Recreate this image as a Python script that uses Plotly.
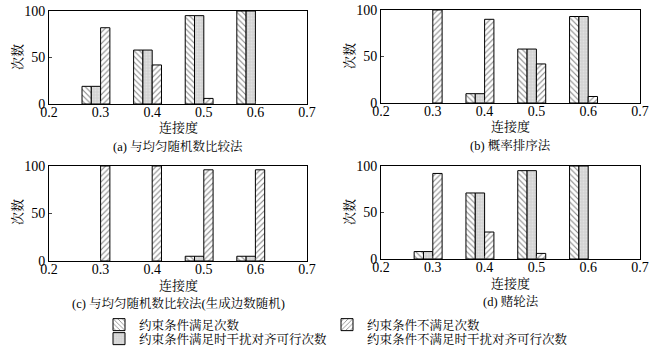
import plotly.graph_objects as go

connectivity = [0.3, 0.4, 0.5, 0.6]
series_names = ["约束条件满足次数", "约束条件满足时干扰对齐可行次数", "约束条件不满足次数", "约束条件不满足时干扰对齐可行次数"]

# panel (a) 与均匀随机数比较法
a_sat = [19, 58, 95, 100]
a_sat_feasible = [19, 58, 95, 100]
a_unsat = [82, 42, 6, 0]
a_unsat_feasible = [0, 0, 0, 0]
# panel (b) 概率排序法
b_sat = [0, 10, 58, 93]
b_sat_feasible = [0, 10, 58, 93]
b_unsat = [100, 90, 42, 7]
b_unsat_feasible = [0, 0, 0, 0]
# panel (c) 与均匀随机数比较法(生成边数随机)
c_sat = [0, 0, 5, 5]
c_sat_feasible = [0, 0, 5, 5]
c_unsat = [100, 100, 96, 96]
c_unsat_feasible = [0, 0, 0, 0]
# panel (d) 赌轮法
d_sat = [8, 71, 95, 100]
d_sat_feasible = [8, 71, 95, 100]
d_unsat = [92, 29, 6, 0]
d_unsat_feasible = [0, 0, 0, 0]

captions = ["(a) 与均匀随机数比较法", "(b) 概率排序法", "(c) 与均匀随机数比较法(生成边数随机)", "(d) 赌轮法"]
xticks = [0.2, 0.3, 0.4, 0.5, 0.6, 0.7]
yticks = [0, 50, 100]

panels = [
    [a_sat, a_sat_feasible, a_unsat, a_unsat_feasible],
    [b_sat, b_sat_feasible, b_unsat, b_unsat_feasible],
    [c_sat, c_sat_feasible, c_unsat, c_unsat_feasible],
    [d_sat, d_sat_feasible, d_unsat, d_unsat_feasible],
]

W, H = 668, 349
SERIF = "Times New Roman, Liberation Serif, Noto Serif CJK SC, Noto Sans CJK SC, serif"

styles = [
    dict(color="white", pattern=dict(shape="\\", fgcolor="black", bgcolor="white", size=4, solidity=0.25)),
    dict(color="#d8d8d8", pattern=dict(shape=".", fgcolor="#f0f0f0", bgcolor="#d2d2d2", size=3, solidity=0.35)),
    dict(color="white", pattern=dict(shape="/", fgcolor="black", bgcolor="white", size=4, solidity=0.25)),
    dict(color="white"),
]
legend_ids = ["legend", "legend2", "legend3", "legend4"]

# pixel boxes: (left, right, top, bottom)
boxes = [(49, 307, 11, 104), (381, 640, 10, 103), (49, 307, 166, 261), (381, 640, 166, 259)]

fig = go.Figure()
for p, vals in enumerate(panels):
    xa = "x" if p == 0 else f"x{p+1}"
    ya = "y" if p == 0 else f"y{p+1}"
    for s in range(4):
        st = styles[s]
        fig.add_trace(go.Bar(
            x=connectivity, y=vals[s], name=series_names[s],
            xaxis=xa, yaxis=ya,
            marker=dict(line=dict(color="black", width=[1 if v > 0 else 0 for v in vals[s]]), **st),
            showlegend=(p == 0), legend=legend_ids[s],
        ))

layout = dict(
    width=W, height=H, margin=dict(l=0, r=0, t=0, b=0, autoexpand=False),
    paper_bgcolor="white", plot_bgcolor="white",
    barmode="group", bargap=0.28, bargroupgap=0,
    font=dict(family=SERIF, size=13, color="black"),
)
annotations = []
for p, (l, r, t, b) in enumerate(boxes):
    xk = "xaxis" if p == 0 else f"xaxis{p+1}"
    yk = "yaxis" if p == 0 else f"yaxis{p+1}"
    ya = "y" if p == 0 else f"y{p+1}"
    xa = "x" if p == 0 else f"x{p+1}"
    layout[xk] = dict(
        domain=[l / W, r / W], anchor=ya, range=[0.2, 0.7], automargin=False,
        tickvals=xticks, ticktext=[f"{v:.1f}" for v in xticks],
        ticks="inside", ticklen=3, showline=True, linecolor="black", linewidth=1,
        mirror=True, showgrid=False, zeroline=False, ticklabelstandoff=-5,
        tickfont=dict(family=SERIF, size=14),
    )
    layout[yk] = dict(
        domain=[1 - b / H, 1 - t / H], anchor=xa, range=[0, 100], automargin=False,
        tickvals=yticks, ticks="inside", ticklen=3, showline=True,
        linecolor="black", linewidth=1, mirror=True, showgrid=False, zeroline=False,
        tickfont=dict(family=SERIF, size=14),
    )
    annotations.append(dict(
        text="连接度", xref="paper", yref="paper",
        x=(l + r) / 2 / W, y=1 - (b + 24) / H, xanchor="center", yanchor="middle",
        showarrow=False, font=dict(size=13),
    ))
    annotations.append(dict(
        text="次数", xref="paper", yref="paper", textangle=-90,
        x=(l - 32) / W, y=1 - (t + 46) / H, xanchor="center", yanchor="middle",
        showarrow=False, font=dict(size=13),
    ))
    annotations.append(dict(
        text=captions[p], xref="paper", yref="paper",
        x=(l + r) / 2 / W, y=1 - (b + 42) / H, xanchor="center", yanchor="middle",
        showarrow=False, font=dict(size=12.5),
    ))
layout["annotations"] = annotations

leg_pos = [(99, 325), (99, 339), (327, 325), (327, 339)]
for s, lid in enumerate(legend_ids):
    lx, ly = leg_pos[s]
    layout[lid] = dict(
        x=lx / W, y=1 - ly / H, xanchor="left", yanchor="middle",
        bgcolor="rgba(0,0,0,0)", font=dict(size=12.5), itemwidth=30,
    )

fig.update_layout(**layout)
fig.write_html(
    "out.html",
    config={"displayModeBar": False},
    post_script="document.body.style.margin='0';document.body.style.overflow='hidden';",
)
